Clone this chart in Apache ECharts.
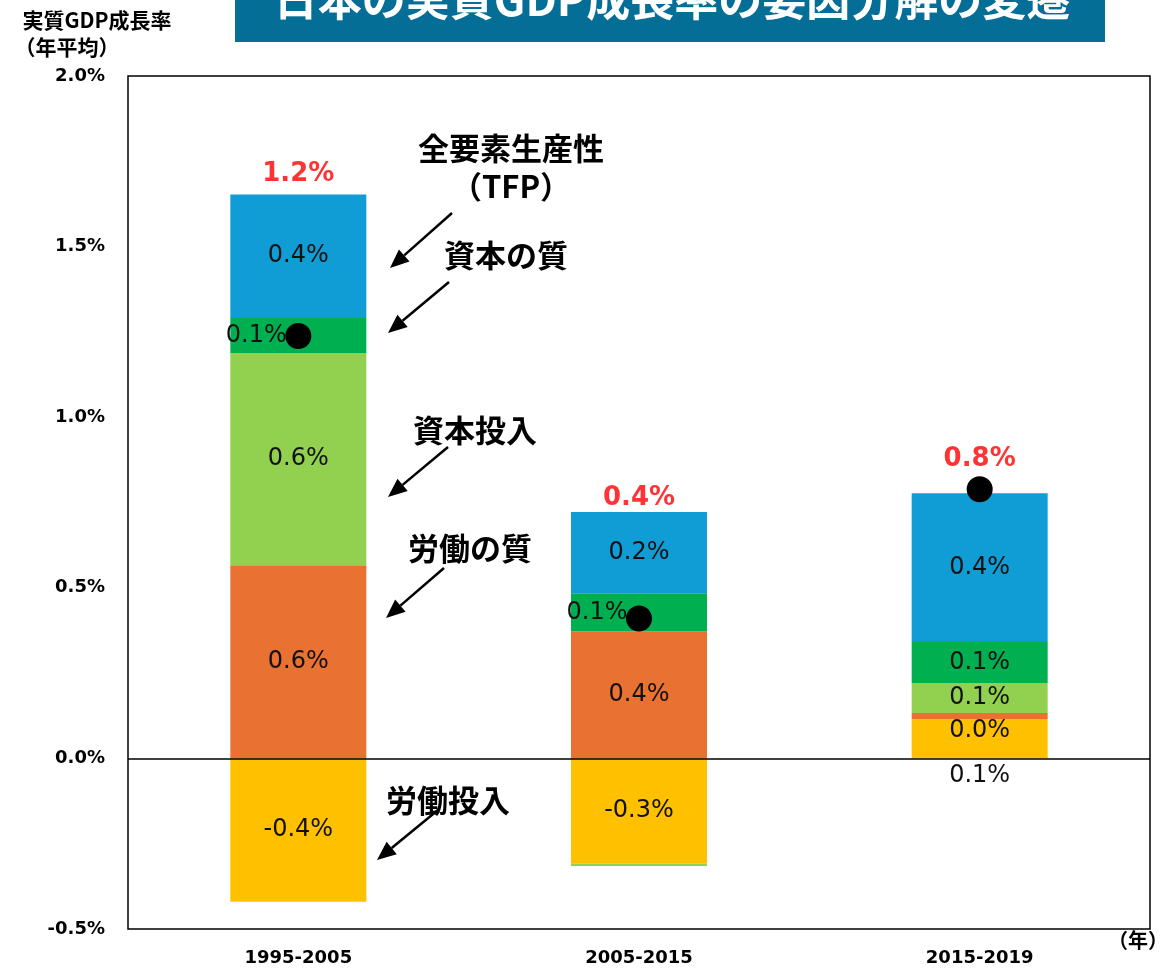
<!DOCTYPE html>
<html>
<head>
<meta charset="utf-8">
<script src="https://cdn.jsdelivr.net/npm/echarts@6/dist/echarts.min.js"></script>
<style>
  html, body { margin: 0; padding: 0; background: #fff; }
  #chart { width: 1160px; height: 970px; }
</style>
</head>
<body>
<div id="chart"></div>
<script>
// 期間
const periods = ['1995-2005', '2005-2015', '2015-2019']
// 各要因の寄与（%ポイント）
const laborInput = [-0.42, -0.309, 0.115]
const laborQuality = [0.566, 0.372, 0.018]
const capitalInput = [0.622, -0.006, 0.088]
const capitalQuality = [0.103, 0.112, 0.12]
const tfp = [0.362, 0.238, 0.436]
// 実質GDP成長率（年平均）
const gdpGrowth = [1.238, 0.41, 0.789]
const yTicks = { min: -0.5, max: 2.0, interval: 0.5 }

const colors = {
  laborInput: '#FFC000',
  laborQuality: '#E97132',
  capitalInput: '#92D050',
  capitalQuality: '#00B050',
  tfp: '#109DD6'
}

const numFont = 'DejaVu Sans'
const jpFont = '"Noto Sans CJK JP", sans-serif'

const pct = v => v.toFixed(1) + '%'

// 棒の中のラベル（位置の調整は個別に）
function segData(values, offsets) {
  return values.map((v, i) => {
    const item = { value: v }
    if (Math.abs(v) < 0.01) {
      item.label = { show: false }
    } else if (offsets && offsets[i]) {
      item.label = { offset: offsets[i] }
    }
    return item
  })
}

function barSeries(name, values, color, offsets) {
  return {
    name: name,
    type: 'bar',
    stack: 'total',
    barWidth: 136,
    itemStyle: { color: color },
    label: {
      show: true,
      position: 'inside',
      color: '#111',
      fontFamily: numFont,
      fontSize: 24,
      formatter: p => pct(p.value)
    },
    data: segData(values, offsets)
  }
}

// 合計ラベルの位置（棒の上端かGDPの点の高い方）
const posTotal = periods.map((_, i) =>
  [laborInput, laborQuality, capitalInput, capitalQuality, tfp]
    .map(a => a[i]).filter(v => v > 0).reduce((a, b) => a + b, 0))
const redLabelAt = posTotal.map((t, i) => Math.max(t, gdpGrowth[i]))
const redDist = [7, 1, 17]

const myChart = echarts.init(document.getElementById('chart'))

// 矢印
const arrows = [
  [452, 213, 390, 268],
  [449, 282, 388, 333],
  [448, 447, 388, 497],
  [444, 568, 386, 618],
  [438, 810, 377, 860]
]
const arrowGraphics = []
arrows.forEach(([x1, y1, x2, y2]) => {
  const ang = Math.atan2(y2 - y1, x2 - x1)
  const len = 19, half = 8
  const bx = x2 - len * Math.cos(ang), by = y2 - len * Math.sin(ang)
  const px = -Math.sin(ang) * half, py = Math.cos(ang) * half
  arrowGraphics.push({
    type: 'line',
    shape: { x1: x1, y1: y1, x2: bx, y2: by },
    style: { stroke: '#000', lineWidth: 2.5 }
  })
  arrowGraphics.push({
    type: 'polygon',
    shape: { points: [[x2, y2], [bx + px, by + py], [bx - px, by - py]] },
    style: { fill: '#000' }
  })
})

const annText = (text, x, y) => ({
  type: 'text',
  x: x, y: y,
  style: {
    text: text,
    fill: '#000',
    font: 'bold 31px ' + jpFont,
    textAlign: 'center',
    textVerticalAlign: 'middle'
  }
})

const option = {
  animation: false,
  grid: {
    left: 128, right: 10, top: 76, bottom: 41,
    show: true,
    borderColor: '#000',
    borderWidth: 1.5,
    backgroundColor: '#fff'
  },
  xAxis: {
    type: 'category',
    data: periods,
    axisLine: { show: false, onZero: false },
    axisTick: { show: false },
    axisLabel: {
      color: '#000',
      fontFamily: numFont,
      fontWeight: 'bold',
      fontSize: 18,
      margin: 20
    }
  },
  yAxis: {
    type: 'value',
    min: yTicks.min,
    max: yTicks.max,
    interval: yTicks.interval,
    splitLine: { show: false },
    axisLine: { show: false },
    axisTick: { show: false },
    axisLabel: {
      color: '#000',
      fontFamily: numFont,
      fontWeight: 'bold',
      fontSize: 18,
      margin: 23,
      formatter: v => pct(v)
    }
  },
  series: [
    Object.assign(barSeries('労働投入', laborInput, colors.laborInput, [null, null, [0, 37]]), {
      markLine: {
        silent: true,
        symbol: 'none',
        label: { show: false },
        lineStyle: { color: '#000', width: 1.5, type: 'solid' },
        data: [{ yAxis: 0 }]
      }
    }),
    barSeries('労働の質', laborQuality, colors.laborQuality, [null, null, [0, 15]]),
    barSeries('資本投入', capitalInput, colors.capitalInput),
    barSeries('資本の質', capitalQuality, colors.capitalQuality, [[-42, 0], [-42, 0], null]),
    barSeries('全要素生産性（TFP）', tfp, colors.tfp),
    {
      name: '実質GDP成長率',
      type: 'scatter',
      symbol: 'circle',
      symbolSize: 26,
      itemStyle: { color: '#000', opacity: 1 },
      z: 5,
      data: gdpGrowth
    },
    {
      name: '合計',
      type: 'scatter',
      symbolSize: 0,
      z: 6,
      label: {
        show: true,
        position: 'top',
        color: '#FF0000',
        fontFamily: numFont,
        fontWeight: 'bold',
        fontSize: 26,
        formatter: p => pct(gdpGrowth[p.dataIndex])
      },
      data: redLabelAt.map((v, i) => ({ value: v, label: { distance: redDist[i] } }))
    }
  ],
  graphic: [
    {
      type: 'rect',
      shape: { x: 235, y: 0, width: 870, height: 42 },
      style: { fill: '#046E96' }
    },
    {
      type: 'text',
      x: 672, y: -1,
      style: {
        text: '日本の実質GDP成長率の要因分解の変遷',
        fill: '#fff',
        font: 'bold 44px ' + jpFont,
        textAlign: 'center',
        textVerticalAlign: 'middle'
      }
    },
    {
      type: 'text',
      x: 97, y: 20,
      style: {
        text: '実質GDP成長率',
        fill: '#000',
        font: 'bold 21px ' + jpFont,
        textAlign: 'center',
        textVerticalAlign: 'middle'
      }
    },
    {
      type: 'text',
      x: 67, y: 47,
      style: {
        text: '（年平均）',
        fill: '#000',
        font: 'bold 21px ' + jpFont,
        textAlign: 'center',
        textVerticalAlign: 'middle'
      }
    },
    {
      type: 'text',
      x: 1138, y: 940,
      style: {
        text: '（年）',
        fill: '#000',
        font: 'bold 20px ' + jpFont,
        textAlign: 'center',
        textVerticalAlign: 'middle'
      }
    },
    annText('全要素生産性', 511, 148),
    annText('（TFP）', 511, 186),
    annText('資本の質', 506, 255),
    annText('資本投入', 475, 430),
    annText('労働の質', 470, 548),
    annText('労働投入', 448, 800)
  ].concat(arrowGraphics)
}

myChart.setOption(option)
</script>
</body>
</html>
